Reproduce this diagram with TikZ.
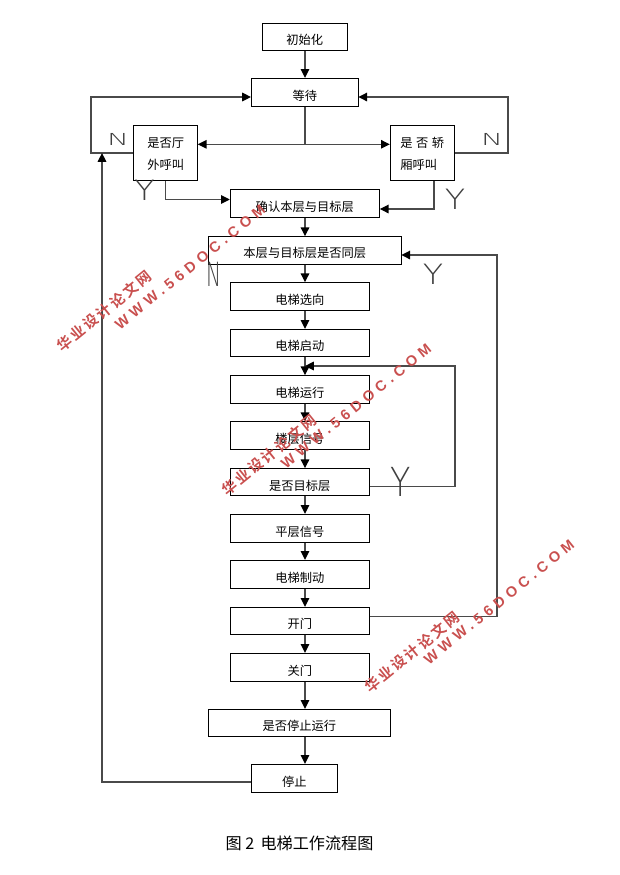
\documentclass[tikz,border=0pt]{standalone}
\usepackage{fontspec}
\usepackage{graphicx}
\usetikzlibrary{arrows.meta,calc}
\setmainfont{Noto Sans CJK SC}
\newfontfamily\yn{DejaVu Sans ExtraLight}
\newfontfamily\wmcn[LetterSpace=16]{Noto Sans CJK SC Bold}
\newfontfamily\wmen[LetterSpace=32]{Liberation Sans Bold}
\definecolor{wmred}{HTML}{C9504F}
\definecolor{conn}{HTML}{4A4A4A}
\tikzset{
  fb/.style={draw=black,line width=0.75pt,inner sep=0pt,font=\fontsize{9.2pt}{16.5pt}\selectfont},
  link/.style={draw=conn,line width=0.95pt,-{Triangle[length=6.6pt,width=6.4pt,color=black]}},
  plain/.style={draw=conn,line width=0.95pt},
  mark letter/.style={inner sep=0pt,text=black!75,font=\yn\fontsize{20pt}{20pt}\selectfont},
  wmcnstyle/.style={inner sep=0pt,text=wmred,rotate=39,font=\wmcn\fontsize{11pt}{11pt}\selectfont},
  wmenstyle/.style={inner sep=0pt,text=wmred,rotate=39,font=\wmen\fontsize{11pt}{11pt}\selectfont}
}
\newcommand{\boxtxt}[1]{\raisebox{-6.1pt}[0pt][0pt]{#1}}
\begin{document}
\begin{tikzpicture}[x=0.75pt,y=-0.75pt]
\useasboundingbox (0,0) rectangle (619,875);
\coordinate (axis) at (305,0);
% boxes: centre, width, height
\node[fb,minimum width=85pt*0.75,minimum height=27pt*0.75] (init) at (304.8,36.8) {\boxtxt{初始化}};
\node[fb,minimum width=107pt*0.75,minimum height=28pt*0.75] (wait) at (304.8,92.3) {\boxtxt{等待}};
\node[fb,minimum width=64pt*0.75,minimum height=54.6pt*0.75] (hall) at (165.3,153) {};
\node[align=left,inner sep=0pt,font=\fontsize{9.2pt}{16.5pt}\selectfont,anchor=west] (hallt) at (147,154) {是否厅\\外呼叫};
\node[fb,minimum width=64pt*0.75,minimum height=54.6pt*0.75] (car) at (422.3,153) {};
\node[align=left,inner sep=0pt,font=\fontsize{9.2pt}{16.5pt}\selectfont,anchor=west] (cart) at (400,154) {是\hspace{2.7pt}否\hspace{2.7pt}轿\\厢呼叫};
\node[fb,minimum width=149pt*0.75,minimum height=27.6pt*0.75] (conf) at (304.8,203.5) {\boxtxt{确认本层与目标层}};
\node[fb,minimum width=193pt*0.75,minimum height=27.6pt*0.75] (same) at (304.8,250.5) {\raisebox{-5.4pt}[0pt][0pt]{本层与目标层是否同层}};
\node[fb,minimum width=139pt*0.75,minimum height=27.6pt*0.75] (dir) at (299.8,296.5) {\boxtxt{电梯选向}};
\node[fb,minimum width=139pt*0.75,minimum height=27pt*0.75] (start) at (299.8,342.8) {\boxtxt{电梯启动}};
\node[fb,minimum width=139pt*0.75,minimum height=27.6pt*0.75] (run) at (299.8,389.5) {\boxtxt{电梯运行}};
\node[fb,minimum width=139pt*0.75,minimum height=27.6pt*0.75] (sig) at (299.8,435.5) {\boxtxt{楼层信号}};
\node[fb,minimum width=139pt*0.75,minimum height=26.6pt*0.75] (goal) at (299.8,482) {\boxtxt{是否目标层}};
\node[fb,minimum width=139pt*0.75,minimum height=28pt*0.75] (lev) at (299.8,528.3) {\boxtxt{平层信号}};
\node[fb,minimum width=139pt*0.75,minimum height=28pt*0.75] (brk) at (299.8,574.3) {\boxtxt{电梯制动}};
\node[fb,minimum width=139pt*0.75,minimum height=27pt*0.75] (open) at (299.8,620.8) {\boxtxt{开门}};
\node[fb,minimum width=139pt*0.75,minimum height=28pt*0.75] (close) at (299.8,667.3) {\boxtxt{关门}};
\node[fb,minimum width=182pt*0.75,minimum height=27pt*0.75] (stopq) at (299.3,722.8) {\boxtxt{是否停止运行}};
\node[fb,minimum width=86pt*0.75,minimum height=28pt*0.75] (stop) at (294.3,778.3) {\boxtxt{停止}};
% vertical chain
\foreach \a/\b in {init/wait,conf/same,same/dir,dir/start,start/run,run/sig,sig/goal,goal/lev,lev/brk,brk/open,open/close,close/stopq,stopq/stop}
  \draw[link] (\a.south -| axis) -- (\b.north -| axis);
% wait branch
\coordinate (split) at ($(wait.south -| axis)+(0,37.5)$);
\draw[plain] (wait.south -| axis) -- (split);
\draw[link] (split) -- (split -| hall.east);
\draw[link] (split) -- (split -| car.west);
% N returns
\coordinate (ln) at (91,153);
\coordinate (rn) at (508,153);
\coordinate (wy) at (251,97);
\coordinate (wz) at (358.3,97);
\draw[link] (hall.west) -- (ln) -- (ln |- wy) -- (wy);
\draw[link] (car.east) -- (rn) -- (rn |- wz) -- (wz);
% Y into confirm
\coordinate (hy) at (165.6,199.5);
\coordinate (cy) at (434,209);
\draw[link] (hy |- hall.south) -- (hy) -- (hy -| conf.west);
\draw[link] (cy |- car.south) -- (cy) -- (cy -| conf.east);
% same-floor loop
\coordinate (oy) at (497,616.5);
\coordinate (sy) at (401.3,255);
\draw[link] (oy -| open.east) -- (oy) -- (oy |- sy) -- (sy);
% target loop
\coordinate (ty) at (455,486.5);
\coordinate (tt) at (455,366);
\draw[link] (ty -| goal.east) -- (ty) -- (tt) -- (tt -| axis);
% stop return
\coordinate (sr) at (102,782);
\coordinate (sw) at (251.3,782);
\draw[link] (sw) -- (sr) -- (sr |- hall.west);
% letters
\node[mark letter,xscale=1.1,yscale=0.62] (n1) at (118,139.5) {N};
\node[mark letter,xscale=1.1,yscale=0.62] (n2) at (492,139.5) {N};
\node[mark letter,xscale=0.75,yscale=1.25] (n3) at (213.5,274.5) {N};
\node[mark letter,xscale=1.25,yscale=1.05] (y1) at (144.5,190.5) {Y};
\node[mark letter,xscale=1.25,yscale=1.05] (y2) at (455,199) {Y};
\node[mark letter,xscale=1.25,yscale=1.05] (y3) at (433,274) {Y};
\node[mark letter,xscale=1.25,yscale=1.5] (y4) at (401,481.5) {Y};
% caption
\node[inner sep=0pt,font=\fontsize{12.1pt}{13pt}\selectfont] (cap) at (299.5,843.5) {图 2 \,电梯工作流程图};
% watermarks
\node[wmcnstyle] (w1a) at (104,311) {华业设计论文网};
\node[wmenstyle] (w1b) at (190,267) {WWW.56DOC.COM};
\node[wmcnstyle] (w2a) at (269,455) {华业设计论文网};
\node[wmenstyle] (w2b) at (356,406) {WWW.56DOC.COM};
\node[wmcnstyle] (w3a) at (412,652) {华业设计论文网};
\node[wmenstyle] (w3b) at (499,602) {WWW.56DOC.COM};
\end{tikzpicture}
\end{document}
